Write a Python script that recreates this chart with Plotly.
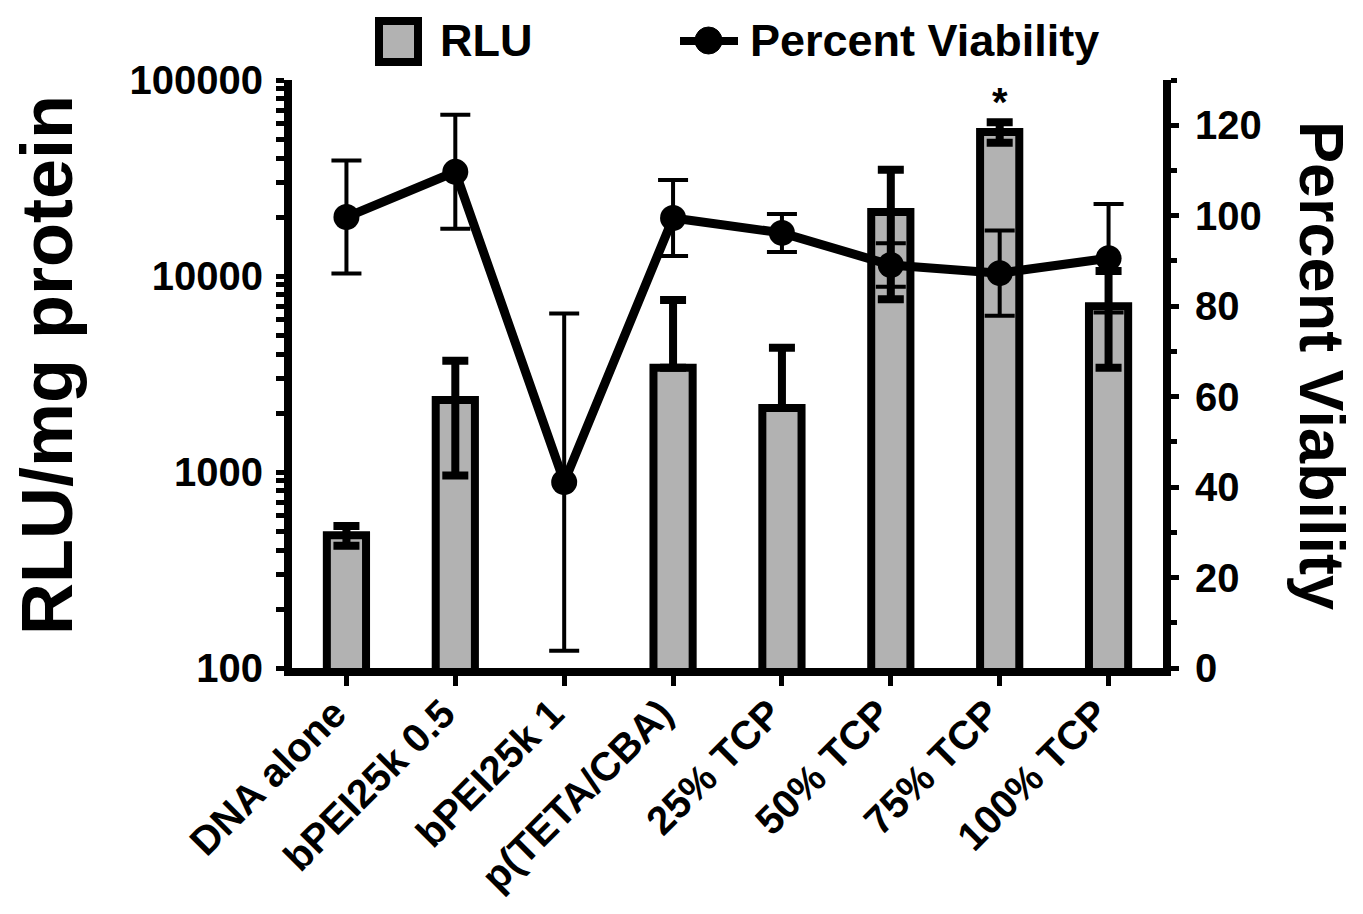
import plotly.graph_objects as go

categories = ["DNA alone", "bPEI25k 0.5", "bPEI25k 1", "p(TETA/CBA)",
              "25% TCP", "50% TCP", "75% TCP", "100% TCP"]
rlu = [475, 2330, None, 3400, 2120, 21200, 54300, 7000]
rlu_err = [55, 1370, None, 4150, 2180, 13600, 6500, 3600]
viability = [99.7, 109.7, 41.1, 99.5, 96.2, 89.1, 87.3, 90.6]
viability_err = [12.5, 12.6, 37.3, 8.4, 4.2, 4.8, 9.4, 12.0]

left_ticks = [100, 1000, 10000, 100000]
right_ticks = [0, 20, 40, 60, 80, 100, 120]

FONT = "Arial, Liberation Sans, Helvetica, sans-serif"

# page has an 8px body margin; figure is placed at (8, 8)
OFF = 8
W, H = 1363 - OFF, 914 - 2 * OFF
# plot area in page pixels
L, R, T, B = 292, 1163, 80, 668


def px(x):
    return (x - L) / (R - L)


def py(y):
    return (B - y) / (B - T)


rlu_minus = []
for v, e in zip(rlu, rlu_err):
    if v is None:
        rlu_minus.append(None)
    elif v - e <= 0:
        rlu_minus.append(0)
    else:
        rlu_minus.append(e)

# minor + major ticks on log axis
log_tickvals = []
log_ticktext = []
for dec in left_ticks[:-1]:
    for m in range(1, 10):
        log_tickvals.append(dec * m)
        log_ticktext.append(str(dec) if m == 1 else "")
log_tickvals.append(left_ticks[-1])
log_ticktext.append(str(left_ticks[-1]))

fig = go.Figure()

fig.add_trace(go.Bar(
    x=categories, y=rlu, name="RLU",
    width=0.36,
    marker=dict(color="#b2b2b2", line=dict(color="black", width=8)),
    error_y=dict(type="data", symmetric=False, array=rlu_err,
                 arrayminus=rlu_minus, color="black", thickness=8, width=13),
    yaxis="y",
))

fig.add_trace(go.Scatter(
    x=categories, y=viability, name="Percent Viability",
    mode="lines+markers",
    line=dict(color="black", width=9),
    marker=dict(color="black", size=26),
    error_y=dict(type="data", array=viability_err, color="black",
                 thickness=4, width=15),
    yaxis="y2",
))

fig.update_layout(
    width=W, height=H,
    margin=dict(l=L - OFF, r=1363 - R, t=T - OFF,
                b=H - (B - OFF), autoexpand=False),
    paper_bgcolor="white", plot_bgcolor="white",
    showlegend=False,
    font=dict(family=FONT, color="black", size=40, weight=700),
    xaxis=dict(
        type="category", range=[-0.5, 7.5], automargin=False,
        showline=True, linewidth=8, linecolor="black",
        ticks="outside", ticklen=10, tickwidth=5, tickcolor="black",
        tickangle=-45, tickfont=dict(size=40, family=FONT, weight=700),
        ticklabelshift=-12, ticklabelstandoff=-12,
        showgrid=False, zeroline=False,
    ),
    yaxis=dict(
        type="log", range=[2, 5], automargin=False,
        showline=True, linewidth=8, linecolor="black",
        ticks="outside", ticklen=8, tickwidth=5, tickcolor="black",
        tickmode="array", tickvals=log_tickvals, ticktext=log_ticktext,
        tickfont=dict(size=40, family=FONT, weight=700),
        ticklabelstandoff=5,
        showgrid=False, zeroline=False,
    ),
    yaxis2=dict(
        overlaying="y", side="right", range=[0, 130], automargin=False,
        showline=True, linewidth=8, linecolor="black",
        ticks="outside", ticklen=8, tickwidth=5, tickcolor="black",
        tickmode="array", tickvals=right_ticks,
        minor=dict(dtick=10, ticks="outside", ticklen=6, tickwidth=5, tickcolor="black"),
        tickfont=dict(size=40, family=FONT, weight=700),
        ticklabelstandoff=8,
        showgrid=False, zeroline=False,
    ),
    bargap=0.6,
)

shapes = [
    # legend: RLU box
    dict(type="rect", xref="paper", yref="paper",
         x0=px(379), x1=px(418), y0=py(62), y1=py(21),
         fillcolor="#b2b2b2", line=dict(color="black", width=8)),
    # legend: viability line + marker
    dict(type="line", xref="paper", yref="paper",
         x0=px(680), x1=px(738), y0=py(41), y1=py(41),
         line=dict(color="black", width=8)),
    dict(type="circle", xref="paper", yref="paper",
         x0=px(695), x1=px(722), y0=py(54), y1=py(27),
         fillcolor="black", line=dict(color="black", width=1)),
]

annotations = [
    dict(text="RLU", xref="paper", yref="paper", x=px(438), y=py(41),
         xanchor="left", yanchor="middle", showarrow=False,
         font=dict(size=45, family=FONT, weight=700)),
    dict(text="Percent Viability", xref="paper", yref="paper", x=px(748), y=py(41),
         xanchor="left", yanchor="middle", showarrow=False,
         font=dict(size=45, family=FONT, weight=700)),
    dict(text="RLU/mg protein", xref="paper", yref="paper", x=px(47), y=py(365),
         xanchor="center", yanchor="middle", textangle=-90, showarrow=False,
         font=dict(size=72, family=FONT, weight=700)),
    dict(text="Percent Viability", xref="paper", yref="paper", x=px(1322), y=py(365),
         xanchor="center", yanchor="middle", textangle=90, showarrow=False,
         font=dict(size=63, family=FONT, weight=700)),
    dict(text="*", x="75% TCP", y=4.765, xref="x", yref="y",
         yanchor="bottom", showarrow=False,
         font=dict(size=40, family=FONT, weight=700)),
]

fig.update_layout(shapes=shapes, annotations=annotations)

fig.write_html("out.html")
